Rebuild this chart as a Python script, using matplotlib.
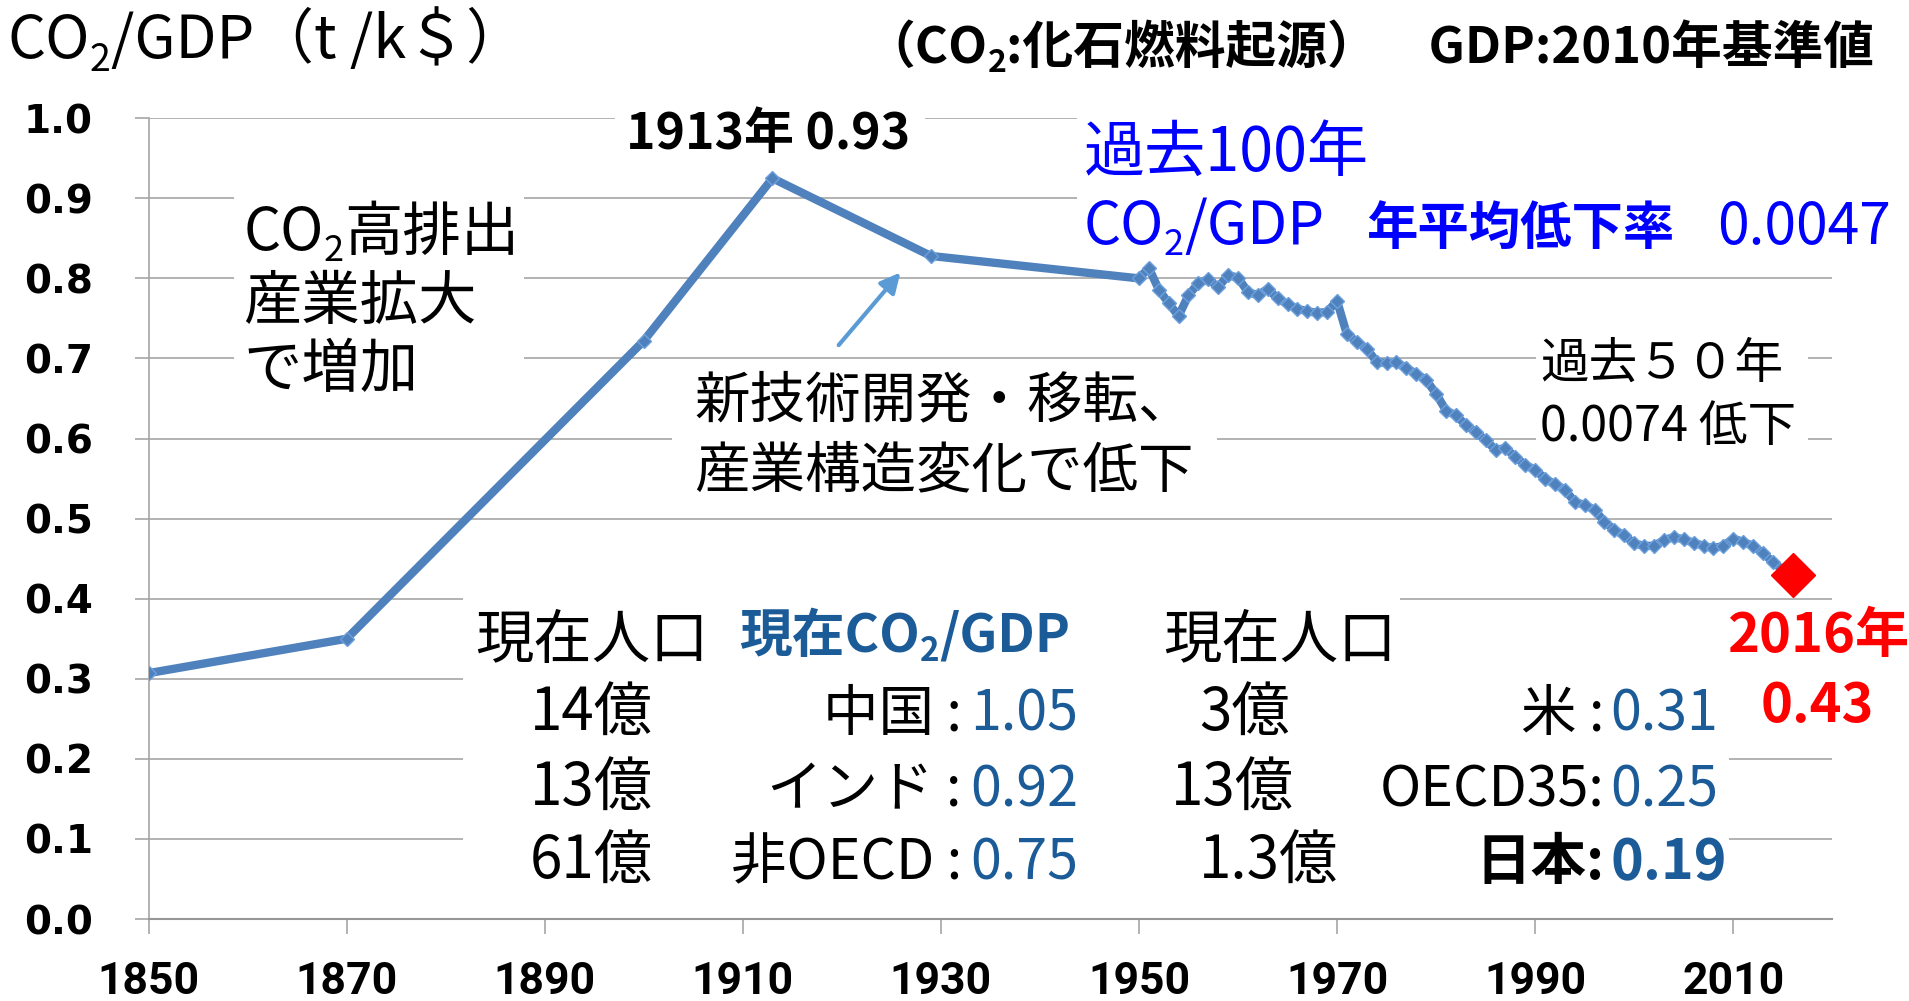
import matplotlib
matplotlib.use('Agg')
import matplotlib.pyplot as plt
from matplotlib.patches import Rectangle

plt.rcParams['font.family'] = ['Noto Sans CJK JP', 'DejaVu Sans']

# Data: CO2/GDP (t/k$), sparse points before 1950, annual from 1950
years_early = [1850, 1870, 1900, 1913, 1929, 1950]
vals_early = [0.307, 0.350, 0.722, 0.925, 0.828, 0.800]

years_annual = list(range(1951, 2017))
vals_annual = [
    0.813, 0.786, 0.769, 0.753, 0.779, 0.794, 0.799, 0.789, 0.804, 0.801,  # 1951-1960
    0.783, 0.779, 0.787, 0.775, 0.768, 0.762, 0.759, 0.757, 0.758, 0.772,  # 1961-1970
    0.730, 0.721, 0.712, 0.696, 0.694, 0.695, 0.688, 0.681, 0.673, 0.656,  # 1971-1980
    0.635, 0.629, 0.617, 0.608, 0.598, 0.586, 0.588, 0.577, 0.567, 0.561,  # 1981-1990
    0.550, 0.543, 0.536, 0.521, 0.517, 0.511, 0.496, 0.486, 0.479, 0.469,  # 1991-2000
    0.466, 0.466, 0.473, 0.477, 0.474, 0.470, 0.466, 0.463, 0.466, 0.475,  # 2001-2010
    0.471, 0.466, 0.457, 0.446, 0.436, 0.430,                              # 2011-2016
]

years = years_early + years_annual
vals = vals_early + vals_annual

x_ticks = list(range(1850, 2011, 20))
y_ticks = [i / 10 for i in range(11)]

# country table
pop_left = ['14億', '13億', '61億']
names_left = ['中国 :', 'インド :', '非OECD :']
ratio_left = ['1.05', '0.92', '0.75']
pop_right = ['3億', '13億', '1.3億']
names_right = ['米 :', 'OECD35:', '日本:']
ratio_right = ['0.31', '0.25', '0.19']

BLUE_LINE = '#4F81BD'
TABLE_BLUE = '#1A5B98'

fig = plt.figure(figsize=(19.09, 10.01), dpi=100)
ax = fig.add_axes([0.0778, 0.0819, 0.882, 0.800])

ax.plot(years, vals, color=BLUE_LINE, lw=6, marker='D', ms=7.5,
        mfc=BLUE_LINE, mec='#6CA0DC', mew=1, zorder=3)
ax.plot(years[-1], vals[-1], marker='D', ms=22, color='#FF0000', zorder=4)

ax.set_xlim(1850, 2020)
ax.set_ylim(0, 1.0)
ax.set_xticks(x_ticks)
ax.set_yticks(y_ticks)
ax.set_yticklabels([f'{v:.1f}' for v in y_ticks], fontfamily='DejaVu Sans',
                   fontweight='bold', fontsize=28)
ax.set_xticklabels([str(x) for x in x_ticks], fontfamily='Roboto',
                   fontweight='bold', fontsize=32)
ax.yaxis.grid(True, color='#A6A6A6', lw=1.2)
ax.set_axisbelow(True)
for s in ['top', 'right']:
    ax.spines[s].set_visible(False)
ax.spines['left'].set_color('#A6A6A6')
ax.spines['bottom'].set_color('#969696')
ax.spines['left'].set_linewidth(1.2)
ax.spines['bottom'].set_linewidth(1.5)
ax.tick_params(axis='y', length=10, width=1.2, color='#A6A6A6', pad=30)
ax.tick_params(axis='x', length=11, width=1.2, color='#A6A6A6', pad=19)

# arrow towards the post-1913 decline
ax.annotate('', xy=(1926.1, 0.810), xytext=(1919.5, 0.714),
            arrowprops=dict(arrowstyle='-|>', color='#5B9BD5', lw=3,
                            mutation_scale=30), zorder=5)

# annotation placement in a 1568x822 reference frame
W, H = 1568, 822


def fx(px):
    return px / W


def fy(py):
    return 1 - py / H


def blank(x0, x1, y0, y1):
    # white text-box background that hides the gridlines
    fig.add_artist(Rectangle((fx(x0), fy(y1)), fx(x1) - fx(x0), fy(y0) - fy(y1),
                             transform=fig.transFigure, facecolor='white',
                             edgecolor='none', zorder=1))


def rich(x, y, parts):
    r = fig.canvas.get_renderer()
    x = fx(x)
    for s, kw in parts:
        kw = dict(kw)
        dy = kw.pop('dy', 0)
        t = fig.text(x, fy(y + dy), s, va='baseline', **kw)
        x += t.get_window_extent(r).width / fig.bbox.width


blank(505, 760, 85, 128)
blank(885, 1568, 95, 210)
blank(192, 430, 150, 330)
blank(552, 1000, 295, 410)
blank(1262, 1485, 275, 372)
blank(380, 1150, 485, 735)
blank(1150, 1420, 500, 735)
blank(1418, 1568, 495, 605)

# titles
rich(6, 48, [('CO', dict(fontsize=43)), ('2', dict(fontsize=27, dy=10)),
             ('/GDP（t /k＄）', dict(fontsize=43))])
rich(710, 52, [('（CO', dict(fontsize=36.5, fontweight='bold')),
               ('2', dict(fontsize=23, fontweight='bold', dy=7)),
               (':化石燃料起源）　GDP:2010年基準値', dict(fontsize=36.5, fontweight='bold'))])

fig.text(fx(631), fy(122), '1913年 0.93', ha='center', va='baseline',
         fontsize=36, fontweight='bold')

fig.text(fx(890), fy(140), '過去100年', va='baseline', fontsize=44, color='#0000FF')
rich(890, 200, [('CO', dict(fontsize=42, color='#0000FF')),
                ('2', dict(fontsize=26, color='#0000FF', dy=9)),
                ('/GDP', dict(fontsize=42, color='#0000FF'))])
fig.text(fx(1122), fy(200), '年平均低下率', va='baseline', fontsize=37,
         fontweight='bold', color='#0000FF')
fig.text(fx(1410), fy(200), '0.0047', va='baseline', fontsize=41, color='#0000FF')

rich(200, 205, [('CO', dict(fontsize=42)), ('2', dict(fontsize=26, dy=9)),
                ('高排出', dict(fontsize=42))])
fig.text(fx(200), fy(262), '産業拡大', va='baseline', fontsize=42)
fig.text(fx(200), fy(318), 'で増加', va='baseline', fontsize=42)

fig.text(fx(570), fy(343), '新技術開発・移転、', va='baseline', fontsize=40)
fig.text(fx(570), fy(400), '産業構造変化で低下', va='baseline', fontsize=40)

fig.text(fx(1265), fy(310), '過去５０年', va='baseline', fontsize=35)
fig.text(fx(1265), fy(362), '0.0074 低下', va='baseline', fontsize=35)

fig.text(fx(1493), fy(535), '2016年', ha='center', va='baseline', fontsize=39,
         fontweight='bold', color='#FF0000')
fig.text(fx(1493), fy(593), '0.43', ha='center', va='baseline', fontsize=39,
         fontweight='bold', color='#FF0000')

# table
fig.text(fx(390), fy(540), '現在人口', va='baseline', fontsize=42)
rich(607, 535, [('現在CO', dict(fontsize=38, fontweight='bold', color=TABLE_BLUE)),
                ('2', dict(fontsize=24, fontweight='bold', color=TABLE_BLUE, dy=8)),
                ('/GDP', dict(fontsize=38, fontweight='bold', color=TABLE_BLUE))])
fig.text(fx(955), fy(540), '現在人口', va='baseline', fontsize=42)

row_y = [600, 662, 722]
pop_left_x = [435, 435, 435]
pop_right_x = [985, 962, 985]
for i, yb in enumerate(row_y):
    fig.text(fx(pop_left_x[i]), fy(yb), pop_left[i], va='baseline', fontsize=42)
    fig.text(fx(790), fy(yb), names_left[i], ha='right', va='baseline', fontsize=40)
    fig.text(fx(797), fy(yb), ratio_left[i], va='baseline', fontsize=40, color=TABLE_BLUE)
    fig.text(fx(pop_right_x[i]), fy(yb), pop_right[i], va='baseline', fontsize=42)
    bold = 'bold' if i == 2 else 'normal'
    fig.text(fx(1318), fy(yb), names_right[i], ha='right', va='baseline',
             fontsize=40, fontweight=bold)
    fig.text(fx(1323), fy(yb), ratio_right[i], va='baseline', fontsize=40,
             fontweight=bold, color=TABLE_BLUE)

fig.savefig('out.png', dpi=100)
